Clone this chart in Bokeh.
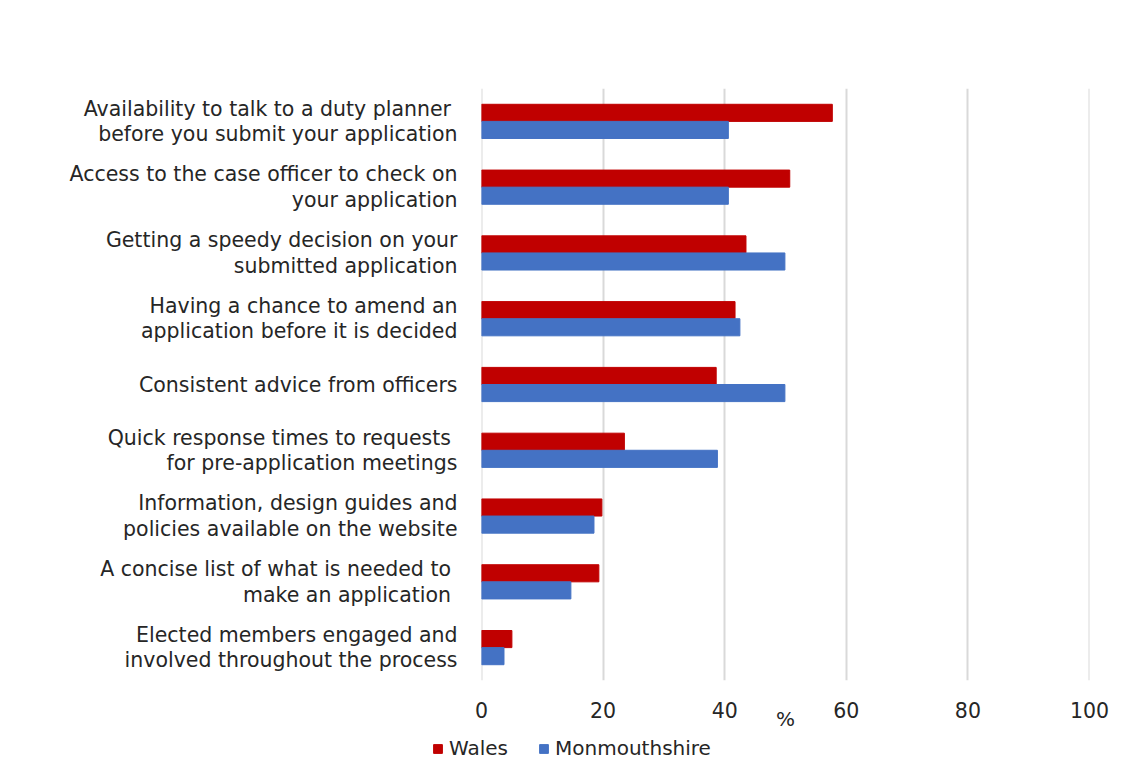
from bokeh.plotting import figure
from bokeh.layouts import column
from bokeh.models import FactorRange, Legend, LegendItem, ColumnDataSource, FixedTicker, Span
from bokeh.transform import dodge
from bokeh.embed import file_html
from bokeh.resources import INLINE

categories = [
    "Availability to talk to a duty planner \nbefore you submit your application",
    "Access to the case officer to check on\nyour application",
    "Getting a speedy decision on your\nsubmitted application",
    "Having a chance to amend an\napplication before it is decided",
    "Consistent advice from officers",
    "Quick response times to requests \nfor pre-application meetings",
    "Information, design guides and\npolicies available on the website",
    "A concise list of what is needed to \nmake an application ",
    "Elected members engaged and\ninvolved throughout the process",
]
wales = [57.7, 50.7, 43.5, 41.7, 38.6, 23.5, 19.8, 19.3, 5.0]
monmouthshire = [40.6, 40.6, 49.9, 42.5, 49.9, 38.8, 18.5, 14.7, 3.7]
x_ticks = [0, 20, 40, 60, 80, 100]
series_names = ["Wales", "Monmouthshire"]

WALES_COLOR = "#C00000"
MON_COLOR = "#4472C4"
FONT = "DejaVu Sans"
TEXT_COLOR = "#262626"
GRID_COLOR = "#d9d9d9"

source = ColumnDataSource(dict(cat=categories, wales=wales, mon=monmouthshire))

p = figure(
    y_range=FactorRange(factors=list(reversed(categories))),
    x_range=(0, 100),
    frame_width=608, frame_height=592,
    min_border_left=481, min_border_top=88, min_border_right=33, min_border_bottom=50,
    output_backend="svg", toolbar_location=None,
)

r_w = p.hbar(y=dodge("cat", 0.13, range=p.y_range), right="wales", left=0, height=0.26,
             source=source, fill_color=WALES_COLOR, line_color=WALES_COLOR)
r_m = p.hbar(y=dodge("cat", -0.13, range=p.y_range), right="mon", left=0, height=0.26,
             source=source, fill_color=MON_COLOR, line_color=MON_COLOR)

p.outline_line_color = None
p.ygrid.grid_line_color = None
p.xgrid.grid_line_color = GRID_COLOR
p.xgrid.grid_line_width = 2
p.xaxis.ticker = FixedTicker(ticks=x_ticks)
for loc in (x_ticks[0], x_ticks[-1]):
    p.add_layout(Span(location=loc, dimension="height", line_color=GRID_COLOR,
                      line_width=2, level="underlay"))

for ax in (p.xaxis[0], p.yaxis[0]):
    ax.axis_line_color = None
    ax.major_tick_line_color = None
    ax.minor_tick_line_color = None
    ax.major_label_text_font = FONT
    ax.major_label_text_font_size = "20.5px"
    ax.major_label_text_color = TEXT_COLOR

p.yaxis.major_label_standoff = 18
p.yaxis.major_label_text_line_height = 1.06
p.xaxis.major_label_standoff = 15
p.xaxis.axis_label = "%"
p.xaxis.axis_label_text_font = FONT
p.xaxis.axis_label_text_font_size = "20px"
p.xaxis.axis_label_text_font_style = "normal"
p.xaxis.axis_label_text_color = TEXT_COLOR
p.xaxis.axis_label_standoff = -14

# legend strip below the chart
lg = figure(
    x_range=(0, 1130), y_range=(0, 40),
    frame_width=1130, frame_height=40,
    min_border=0, x_axis_location=None, y_axis_location=None,
    output_backend="svg", toolbar_location=None,
)
lg.outline_line_color = None
lg.grid.grid_line_color = None
hidden = ColumnDataSource(dict(y=[-100], right=[1]))
lw = lg.hbar(y="y", right="right", left=0, height=1, source=hidden,
             fill_color=WALES_COLOR, line_color=WALES_COLOR)
lm = lg.hbar(y="y", right="right", left=0, height=1, source=hidden,
             fill_color=MON_COLOR, line_color=MON_COLOR)

legend = Legend(
    items=[LegendItem(label=series_names[0], renderers=[lw]),
           LegendItem(label=series_names[1], renderers=[lm])],
    orientation="horizontal",
    location=(432, 13),
    label_text_font=FONT,
    label_text_font_size="20px",
    label_text_color=TEXT_COLOR,
    glyph_width=11, glyph_height=11,
    spacing=30, label_standoff=6,
    border_line_color=None,
    background_fill_alpha=0,
    padding=0, margin=0,
)
lg.add_layout(legend, "center")

layout = column(p, lg, spacing=0)
open("out.html", "w").write(file_html(layout, INLINE))
